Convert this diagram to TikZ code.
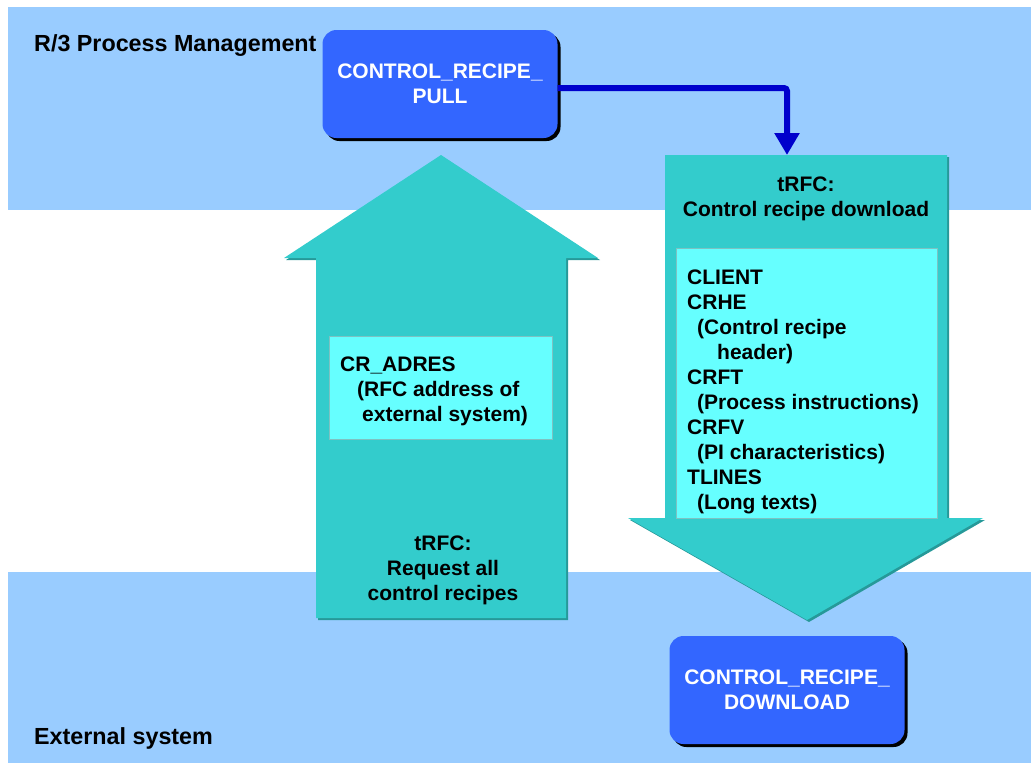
\documentclass[tikz,border=0pt]{standalone}
\usepackage{fontspec}
\setmainfont{Liberation Sans}
\usetikzlibrary{arrows.meta,shadows}
\definecolor{bandblue}{HTML}{99CCFF}
\definecolor{arrowteal}{HTML}{33CCCC}
\definecolor{tealshade}{HTML}{269999}
\definecolor{infocyan}{HTML}{66FFFF}
\definecolor{funcblue}{HTML}{3366FF}
\definecolor{linkblue}{HTML}{0000CC}
\tikzset{
  func/.style={rectangle, rounded corners=14pt, fill=funcblue, minimum width=235pt, minimum height=108pt,
    align=center, text=white, font=\bfseries\fontsize{21}{25}\selectfont,
    drop shadow={shadow xshift=3pt, shadow yshift=-3pt, fill=black, opacity=1}},
  fatarrow/.style={fill=arrowteal, drop shadow={shadow xshift=2pt, shadow yshift=-2pt, fill=tealshade, opacity=1}},
  infobox/.style={rectangle, fill=infocyan, draw=tealshade!60, line width=0.8pt, inner sep=0pt, anchor=north west},
  infotext/.style={inner sep=0pt, font=\bfseries\fontsize{21}{25}\selectfont},
  lbl/.style={inner sep=0pt, anchor=base west, font=\bfseries\fontsize{23.3}{28}\selectfont},
  link/.style={draw=linkblue, line width=6pt, rounded corners=3pt, -{Triangle[width=24pt,length=22pt]}}
}

\begin{document}
\begin{tikzpicture}[x=1pt, y=-1pt]
  \useasboundingbox (0,0) rectangle (1031,763);
  \fill[bandblue] (8,7) rectangle (1031,210);
  \fill[bandblue] (8,572) rectangle (1031,763);

  \node[lbl] (r3) at (34,51) {R/3 Process Management};
  \node[lbl] (ext) at (34,744) {External system};

  \path[fatarrow] (316,618) -- (316,258) -- (284,258) -- (441,155) -- (598,258) -- (566,258) -- (566,618) -- cycle;
  \path[fatarrow] (665,155) -- (947,155) -- (947,518) -- (983,518) -- (807,620) -- (628,518) -- (665,518) -- cycle;
  \coordinate (dltop) at (787,155);

  \node[infobox, minimum width=223pt, minimum height=103pt] (adres) at (329,336) {};
  \node[infobox, minimum width=261pt, minimum height=270pt] (tables) at (676,248) {};

  \node[infotext, align=left, anchor=north west] (adrestxt) at ([xshift=11pt,yshift=-21pt]adres.north west)
    {CR\_ADRES\\\hspace*{17pt}(RFC address of\\\hspace*{22pt}external system)};
  \node[infotext, align=left, anchor=north west] (tablestxt) at ([xshift=11pt,yshift=-22pt]tables.north west)
    {CLIENT\\CRHE\\\hspace*{10pt}(Control recipe\\\hspace*{30pt}header)\\CRFT\\\hspace*{10pt}(Process instructions)\\
     CRFV\\\hspace*{10pt}(PI characteristics)\\TLINES\\\hspace*{10pt}(Long texts)};

  \node[infotext, align=center] (dltitle) at (806,199) {tRFC:\\Control recipe download};
  \node[infotext, align=center] (ultitle) at (443,570) {tRFC:\\Request all\\control recipes};

  \node[func] (pull) at (440,84) {CONTROL\_RECIPE\_\\PULL};
  \node[func] (download) at (787,690) {CONTROL\_RECIPE\_\\DOWNLOAD};

  \draw[link] ([yshift=-4pt]pull.east) -| (dltop);
\end{tikzpicture}
\end{document}
